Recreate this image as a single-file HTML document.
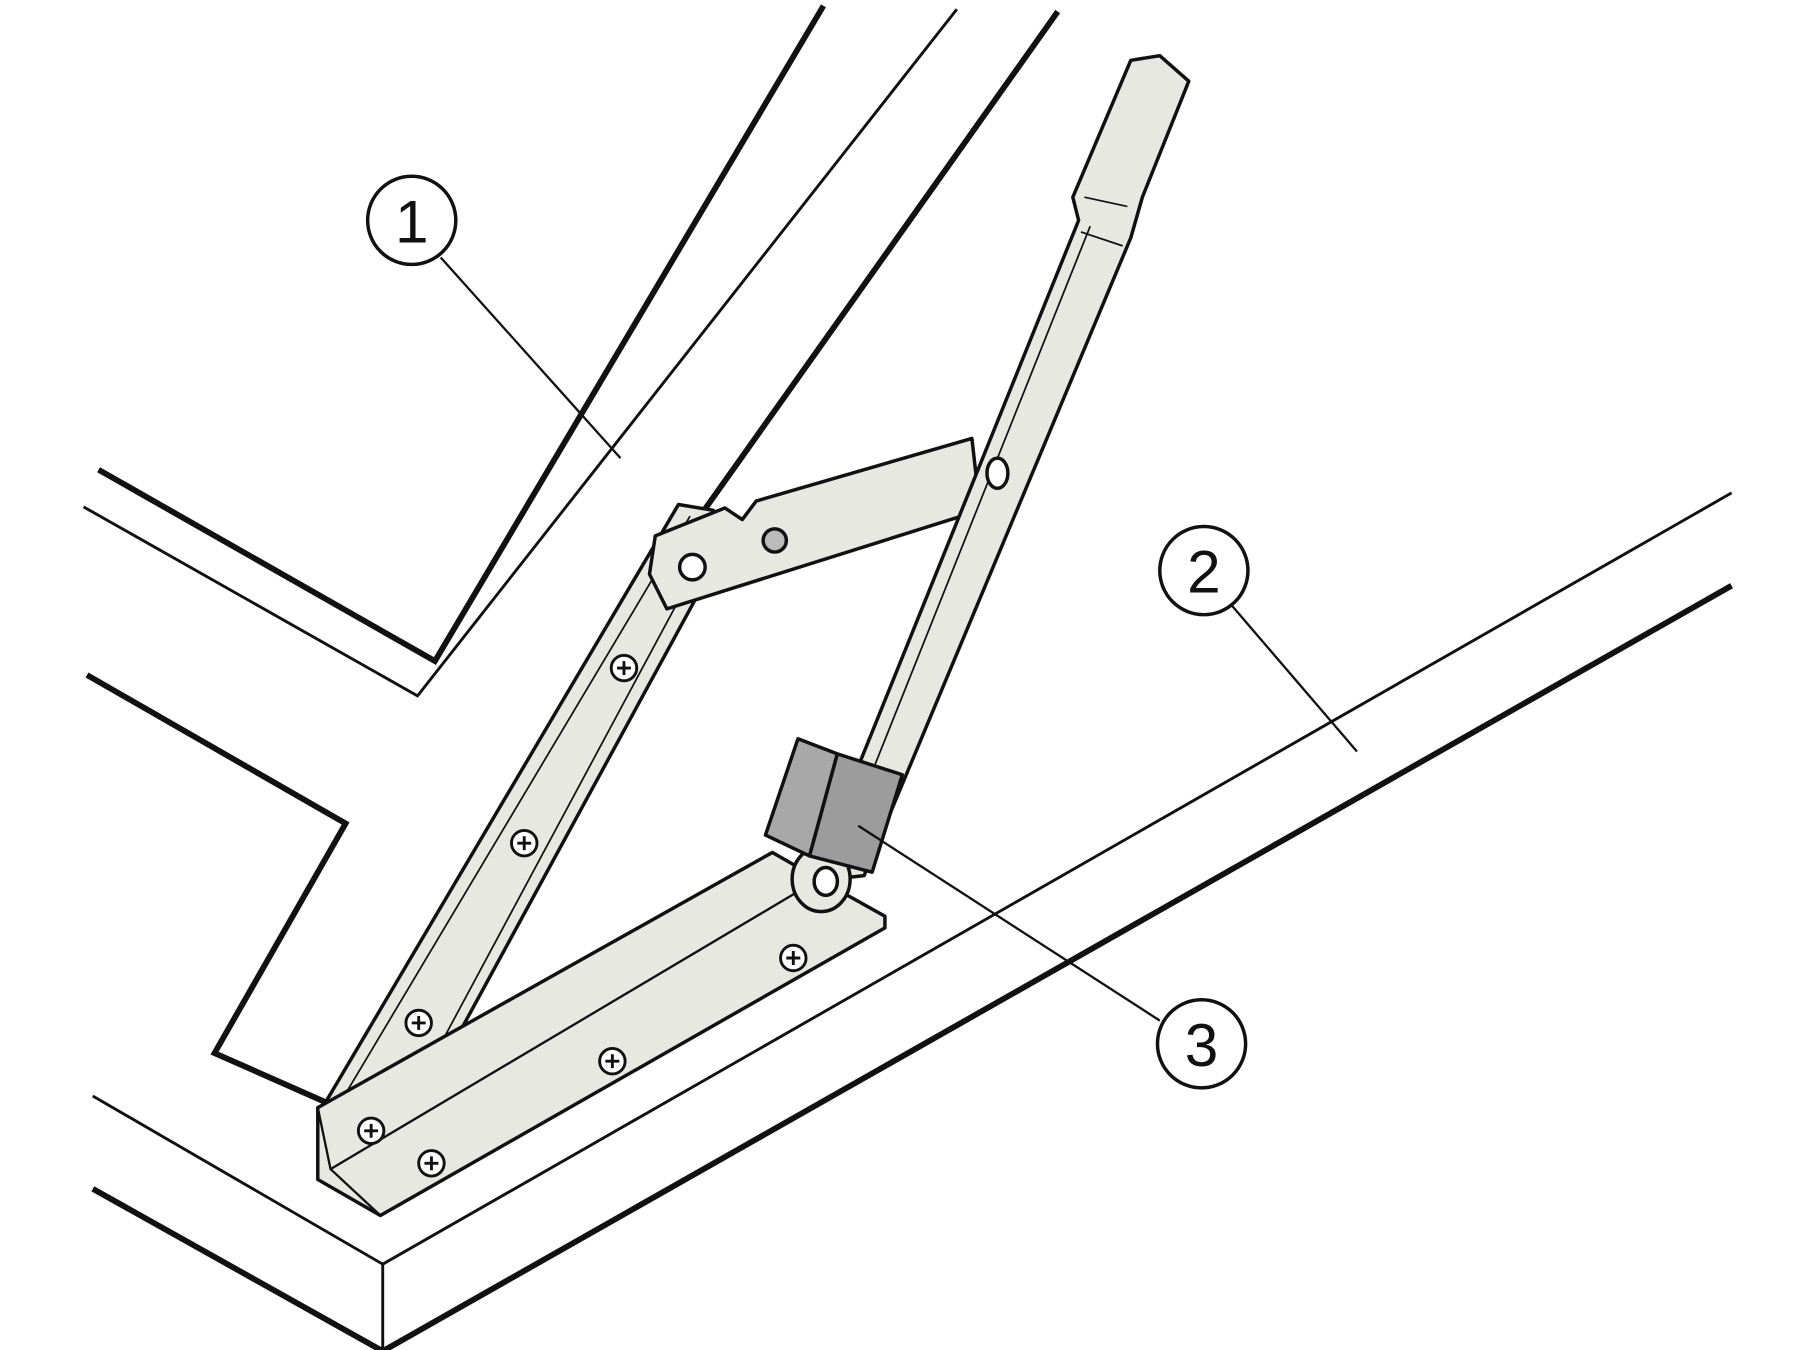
<!DOCTYPE html>
<html><head><meta charset="utf-8"><style>
html,body{margin:0;padding:0;background:#fff;width:1800px;height:1350px;overflow:hidden}
svg{display:block}
text{font-family:"Liberation Sans",sans-serif;font-size:52px}
</style></head><body>
<svg width="1800" height="1350" viewBox="0 0 1552 1164" preserveAspectRatio="none" xmlns="http://www.w3.org/2000/svg">
<g fill="none" stroke="#111" stroke-linejoin="miter">
<polyline points="710,5 375,570 85,405" stroke-width="5"/>
<polyline points="825,8 360,600 72,437" stroke-width="2.5"/>
<polyline points="912,10 600,450" stroke-width="5"/>
<polyline points="75,582 298,710 185,908 280,950" stroke-width="5"/>
<polyline points="80,945 330,1090 1493,425" stroke-width="2.5"/>
<polyline points="80,1025 330,1165 1493,505" stroke-width="5"/>
<line x1="330" y1="1090" x2="330" y2="1165" stroke-width="2.5"/>
</g>
<g stroke="#111" stroke-width="3" fill="#e8e8e2" stroke-linejoin="round">
<polygon points="278,955 585,435 615,440 625,470 380,920 325,965"/>
<line x1="295" y1="948" x2="595" y2="445" stroke-width="1.5"/>
<line x1="372" y1="915" x2="600" y2="490" stroke-width="1.5"/>
<!-- bottom angle bracket -->
<polygon points="274,955 666,735 720,766 763,790 763,800 328,1048 274,1017"/>
<polyline points="274,955 285,1008 686,770" fill="none" stroke-width="2"/>
<line x1="285" y1="1008" x2="328" y2="1048" stroke-width="2"/>
<!-- short link -->
<polygon points="565,462 625,438 640,448 652,432 838,378 845,440 575,525 560,495"/>
<circle cx="597" cy="489" r="11" fill="#fff"/>
<circle cx="668" cy="466" r="10" fill="#bbb"/>
<!-- right arm -->
<polygon points="700,760 930,190 925,170 975,52 1000,48 1025,70 985,170 975,205 745,755"/>
<line x1="715" y1="758" x2="940" y2="195" stroke-width="1.5"/>
<line x1="935" y1="170" x2="972" y2="178" stroke-width="1.5"/>
<line x1="932" y1="200" x2="968" y2="212" stroke-width="1.5"/>
<ellipse cx="860" cy="408" rx="9" ry="13" fill="#fff"/>
<!-- pivot eye -->
<ellipse cx="708" cy="758" rx="25" ry="28"/>
<ellipse cx="712" cy="760" rx="10" ry="12" fill="#fff"/>
<!-- block -->
<polygon points="660,720 688,637 722,650 698,738" fill="#a8a8a8"/>
<polygon points="722,650 778,668 752,752 698,738" fill="#9c9c9c"/>
</g>
<g stroke="#111" stroke-width="2.5" fill="#fff">
<g transform="translate(538,576)"><circle r="11"/><path d="M-6,0H6M0,-6V6"/></g>
<g transform="translate(452,727)"><circle r="11"/><path d="M-6,0H6M0,-6V6"/></g>
<g transform="translate(361,882)"><circle r="11"/><path d="M-6,0H6M0,-6V6"/></g>
<g transform="translate(684,826)"><circle r="11"/><path d="M-6,0H6M0,-6V6"/></g>
<g transform="translate(528,915)"><circle r="11"/><path d="M-6,0H6M0,-6V6"/></g>
<g transform="translate(320,975)"><circle r="11"/><path d="M-6,0H6M0,-6V6"/></g>
<g transform="translate(372,1003)"><circle r="11"/><path d="M-6,0H6M0,-6V6"/></g>
</g>
<g stroke="#111" fill="#fff">
<line x1="380" y1="222" x2="535" y2="395" stroke-width="2"/>
<line x1="1062" y1="522" x2="1170" y2="648" stroke-width="2"/>
<line x1="1000" y1="880" x2="740" y2="712" stroke-width="2"/>
<circle cx="355" cy="190" r="38" stroke-width="3"/>
<circle cx="1038" cy="492" r="38" stroke-width="3"/>
<circle cx="1036" cy="900" r="38" stroke-width="3"/>
</g>
<g fill="#111" text-anchor="middle">
<text x="355" y="209">1</text>
<text x="1038" y="511">2</text>
<text x="1036" y="919">3</text>
</g>
</svg>
</body></html>
